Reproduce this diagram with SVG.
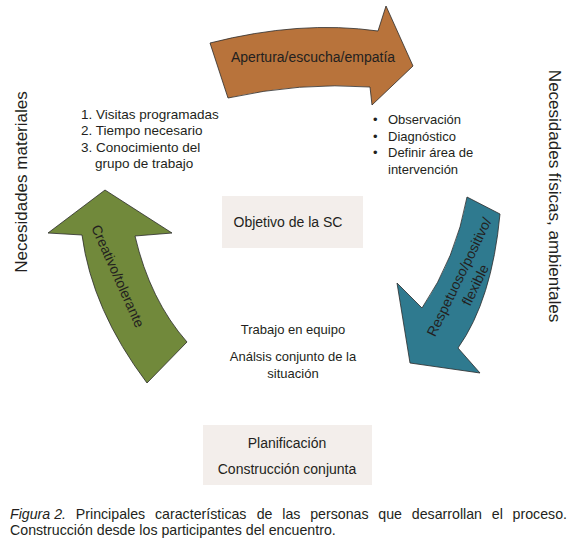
<svg xmlns="http://www.w3.org/2000/svg" width="575" height="546" viewBox="0 0 575 546">
<style>
text{font-family:"Liberation Sans",Arial,sans-serif;fill:#231f20}
.arrow{stroke:#2b2b2b;stroke-width:0.8;stroke-linejoin:miter}
.box{fill:#f3eeeb}
.t12{font-size:13px}
.t13{font-size:14px}
.tl{font-size:13.5px}
.side{font-size:17px}
.cap{font-size:14.2px}
</style>
<rect width="575" height="546" fill="#ffffff"/>
<g id="connectors">
<path id="arrow-orange" class="arrow" fill="#b8733b" d="M 210,43 Q 300,20 378,31 L 386,6 L 413,66 L 372,105 L 370,87 Q 300,82 228,98 Z"/>
<path id="arrow-teal" class="arrow" fill="#2f7a8f" d="M 467,197 L 500,214 Q 492,300 458,348 L 480,373 L 410,363 L 397,283 L 422,308 Q 456,258 467,197 Z"/>
<path id="arrow-green" class="arrow" fill="#71893b" d="M 105,190 L 172,233 L 135,236 Q 150,300 187,342 L 147,383 Q 92,310 82,235 L 48,233 Z"/>
</g>
<g id="label-apertura"><text class="t13" x="313" y="62" text-anchor="middle">Apertura/escucha/empatía</text></g>
<g id="label-respetuoso"><text class="t13" font-size="14.5" transform="translate(459,277) rotate(-64)" text-anchor="middle"><tspan x="0" y="5">Respetuoso/positivo/</tspan><tspan x="0" y="23">flexible</tspan></text></g>
<g id="label-creativo"><text class="t13" font-size="14.5" transform="translate(118,276) rotate(66)" text-anchor="middle" y="5">Creativo/tolerante</text></g>
<g id="side-left"><text class="side" font-size="19" transform="translate(27,182) rotate(-90)" text-anchor="middle">Necesidades materiales</text></g>
<g id="side-right"><text class="side" transform="translate(549,196) rotate(90)" text-anchor="middle">Necesidades físicas, ambientales</text></g>
<g id="list-left">
<text class="tl" x="81" y="119">1. Visitas programadas</text>
<text class="tl" x="81" y="135">2. Tiempo necesario</text>
<text class="tl" x="81" y="151.5">3. Conocimiento del</text>
<text class="tl" x="95" y="168">grupo de trabajo</text>
</g>
<g id="list-right">
<text class="t12" x="373" y="124">•</text><text class="t12" x="388" y="124">Observación</text>
<text class="t12" x="373" y="140.5">•</text><text class="t12" x="388" y="140.5">Diagnóstico</text>
<text class="t12" x="373" y="157">•</text><text class="t12" x="388" y="157">Definir área de</text>
<text class="t12" x="388" y="173.5">intervención</text>
</g>
<g id="node-objetivo">
<rect class="box" x="222" y="196" width="141" height="52"/>
<text class="t13" x="288" y="227" text-anchor="middle">Objetivo de la SC</text>
</g>
<g id="node-trabajo">
<text class="t12" x="293" y="334" text-anchor="middle">Trabajo en equipo</text>
<text class="t12" x="293" y="361" text-anchor="middle">Análsis conjunto de la</text>
<text class="t12" x="293" y="378" text-anchor="middle">situación</text>
</g>
<g id="node-planificacion">
<rect class="box" x="203" y="425" width="169" height="60"/>
<text class="t13" x="287" y="448" text-anchor="middle">Planificación</text>
<text class="t13" x="287" y="474" text-anchor="middle">Construcción conjunta</text>
</g>
<g id="caption">
<text class="cap" y="519"><tspan x="10" font-style="italic">Figura 2.</tspan><tspan x="75.8">Principales</tspan><tspan x="155">características</tspan><tspan x="256.7">de</tspan><tspan x="282.3">las</tspan><tspan x="310.2">personas</tspan><tspan x="378.3">que</tspan><tspan x="411.8">desarrollan</tspan><tspan x="491.8">el</tspan></text>
<text class="cap" x="567" y="519" text-anchor="end">proceso.</text>
<text class="cap" x="10" y="535">Construcción desde los participantes del encuentro.</text>
</g>
</svg>
